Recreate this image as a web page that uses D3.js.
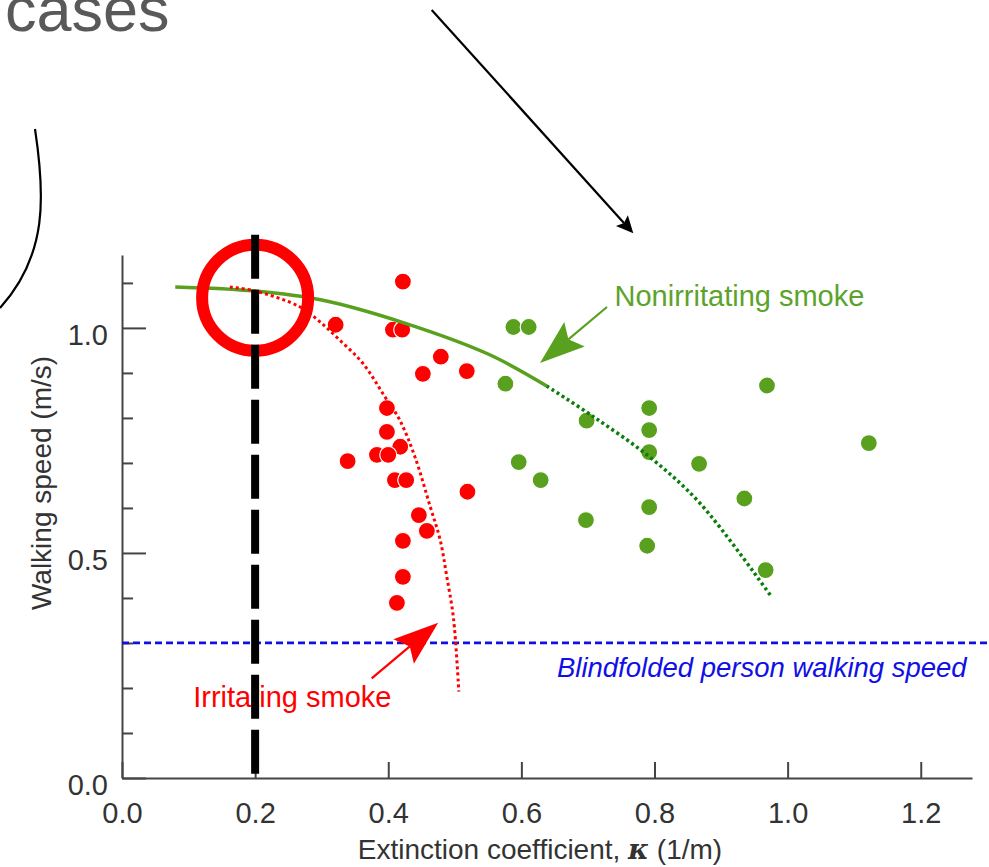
<!DOCTYPE html>
<html>
<head>
<meta charset="utf-8">
<script src="https://cdn.jsdelivr.net/npm/d3@7"></script>
<style>
  body { margin: 0; background: #fff; }
  text { font-family: "Liberation Sans", Arial, sans-serif; }
</style>
</head>
<body>
<script>
// walking speed vs extinction coefficient
const irritating = [
  [0.422, 1.103], [0.321, 1.007], [0.407, 0.996], [0.421, 0.996], [0.479, 0.936],
  [0.452, 0.898], [0.518, 0.904], [0.398, 0.822], [0.398, 0.769], [0.418, 0.736],
  [0.383, 0.718], [0.400, 0.718], [0.339, 0.704], [0.410, 0.662], [0.427, 0.662],
  [0.519, 0.636], [0.446, 0.584], [0.458, 0.549], [0.422, 0.527], [0.422, 0.447],
  [0.413, 0.389]
];
const nonirritating = [
  [0.588, 1.002], [0.611, 1.002], [0.576, 0.876], [0.698, 0.794], [0.792, 0.822],
  [0.792, 0.773], [0.792, 0.724], [0.596, 0.702], [0.629, 0.662], [0.969, 0.872],
  [0.867, 0.698], [1.122, 0.744], [0.935, 0.621], [0.792, 0.602], [0.697, 0.573],
  [0.789, 0.516], [0.967, 0.462]
];
// fitted curves
const nonirrFitSolid = [[0.08, 1.091], [0.2, 1.082], [0.3, 1.062], [0.42, 1.013], [0.55, 0.942], [0.638, 0.871]];
const nonirrFitDotted = [[0.638, 0.871], [0.708, 0.803], [0.792, 0.714], [0.868, 0.611], [0.976, 0.402]];
const irrFit = [[0.162, 1.091], [0.2, 1.082], [0.267, 1.047], [0.297, 1.014], [0.327, 0.973], [0.362, 0.921],
  [0.395, 0.847], [0.417, 0.796], [0.44, 0.714], [0.463, 0.603], [0.478, 0.529], [0.488, 0.447],
  [0.498, 0.355], [0.506, 0.192]];

const blindSpeed = 0.3;
const markK = 0.2;
const xTicks = [0, 0.2, 0.4, 0.6, 0.8, 1.0, 1.2];
const yMajor = [0, 0.5, 1.0];
const yMinor = [0.1, 0.2, 0.3, 0.4, 0.6, 0.7, 0.8, 0.9, 1.1];

const W = 989, H = 867;
const svg = d3.select('body').append('svg').attr('width', W).attr('height', H);

const x = d3.scaleLinear().domain([0, 1.277]).range([122, 972]);
const y = d3.scaleLinear().domain([0, 1.162]).range([778, 255]);

const axisColor = '#444';
const green = '#58a01e', darkGreen = '#0a7d0a', red = '#ff0000', blue = '#1010e6';

// annotations outside the plot
svg.append('text').attr('x', 5).attr('y', 31).attr('font-size', 63).attr('fill', '#595959').text('cases');
svg.append('path').attr('d', 'M35,129 C45,195 48,255 0,308')
  .attr('fill', 'none').attr('stroke', '#000').attr('stroke-width', 2.2);

function arrow(g, x1, y1, x2, y2, color, lw, len, half, notch) {
  const dx = x2 - x1, dy = y2 - y1, L = Math.hypot(dx, dy), ux = dx / L, uy = dy / L;
  const bx = x2 - ux * len, by = y2 - uy * len;
  const nx = x2 - ux * notch, ny = y2 - uy * notch;
  const px = -uy, py = ux;
  g.append('line').attr('x1', x1).attr('y1', y1).attr('x2', nx).attr('y2', ny)
    .attr('stroke', color).attr('stroke-width', lw);
  g.append('path')
    .attr('d', `M${x2},${y2}L${bx + px * half},${by + py * half}L${nx},${ny}L${bx - px * half},${by - py * half}Z`)
    .attr('fill', color);
}

arrow(svg, 431.7, 10, 633.3, 233.3, '#000', 2.2, 17, 8, 14);

// axes
const xAxis = svg.append('g').attr('transform', `translate(0,${y(0)})`)
  .call(d3.axisBottom(x).tickValues(xTicks).tickSize(-16).tickSizeOuter(0).tickPadding(24)
    .tickFormat(d3.format('.1f')));
xAxis.select('.domain').attr('stroke', axisColor).attr('stroke-width', 2);
xAxis.selectAll('.tick line').attr('stroke', axisColor).attr('stroke-width', 2);
xAxis.selectAll('.tick text').attr('font-size', 29).attr('fill', '#333')
  .attr('font-family', '"Liberation Sans", Arial, sans-serif');

const yAxis = svg.append('g').attr('transform', `translate(${x(0)},0)`)
  .call(d3.axisLeft(y).tickValues(yMajor).tickSize(-24).tickSizeOuter(0).tickPadding(14)
    .tickFormat(d3.format('.1f')));
yAxis.select('.domain').attr('stroke', axisColor).attr('stroke-width', 2);
yAxis.selectAll('.tick line').attr('stroke', axisColor).attr('stroke-width', 2);
yAxis.selectAll('.tick text').attr('font-size', 29).attr('fill', '#333').attr('dy', '0.57em')
  .attr('font-family', '"Liberation Sans", Arial, sans-serif');

const yMinorAxis = svg.append('g').attr('transform', `translate(${x(0)},0)`)
  .call(d3.axisLeft(y).tickValues(yMinor).tickSize(-11).tickFormat(''));
yMinorAxis.select('.domain').remove();
yMinorAxis.selectAll('.tick line').attr('stroke', axisColor).attr('stroke-width', 2);

// axis titles
const xt = svg.append('text').attr('x', 540).attr('y', 859).attr('text-anchor', 'middle')
  .attr('font-size', 28).attr('fill', '#333');
xt.append('tspan').text('Extinction coefficient, ');
xt.append('tspan').attr('font-family', '"DejaVu Serif", "Liberation Serif", serif')
  .attr('font-style', 'italic').attr('font-weight', 'bold').text('\u03BA');
xt.append('tspan').text(' (1/m)');

svg.append('text').attr('transform', `translate(51,483) rotate(-90)`).attr('text-anchor', 'middle')
  .attr('font-size', 28).attr('fill', '#333').text('Walking speed (m/s)');

// blindfolded reference line
svg.append('line').attr('x1', x(0)).attr('x2', W).attr('y1', y(blindSpeed)).attr('y2', y(blindSpeed))
  .attr('stroke', blue).attr('stroke-width', 2.8).attr('stroke-dasharray', '7,4');
svg.append('text').attr('x', x(1.269)).attr('y', y(0.224)).attr('text-anchor', 'end')
  .attr('font-size', 27.5).attr('font-style', 'italic').attr('fill', blue)
  .text('Blindfolded person walking speed');

// points
svg.append('g').selectAll('circle').data(irritating).enter().append('circle')
  .attr('cx', d => x(d[0])).attr('cy', d => y(d[1])).attr('r', 8.5)
  .attr('fill', red).attr('stroke', '#fff').attr('stroke-width', 1.2);
svg.append('g').selectAll('circle').data(nonirritating).enter().append('circle')
  .attr('cx', d => x(d[0])).attr('cy', d => y(d[1])).attr('r', 8.5)
  .attr('fill', green).attr('stroke', '#fff').attr('stroke-width', 1.2);

// fitted curves
const line = d3.line().x(d => x(d[0])).y(d => y(d[1])).curve(d3.curveCatmullRom);
svg.append('path').attr('d', line(nonirrFitSolid)).attr('fill', 'none')
  .attr('stroke', green).attr('stroke-width', 3.5);
svg.append('path').attr('d', line(nonirrFitDotted)).attr('fill', 'none')
  .attr('stroke', darkGreen).attr('stroke-width', 3.5).attr('stroke-dasharray', '3,3');
svg.append('path').attr('d', line(irrFit)).attr('fill', 'none')
  .attr('stroke', red).attr('stroke-width', 3).attr('stroke-dasharray', '3,3');

// series labels with arrows
svg.append('text').attr('x', x(0.740)).attr('y', y(1.048)).attr('font-size', 29).attr('fill', '#5ba32b')
  .text('Nonirritating smoke');
arrow(svg, 607, 307, x(0.628), y(0.922), green, 2.2, 45, 16, 37);

svg.append('text').attr('x', x(0.107)).attr('y', y(0.158)).attr('font-size', 29).attr('fill', red)
  .text('Irritating smoke');
arrow(svg, 371.7, 678.3, x(0.475), y(0.345), red, 2.2, 45, 16, 37);

// highlight of k = 0.2
svg.append('circle').attr('cx', x(markK)).attr('cy', y(1.067)).attr('r', 53)
  .attr('fill', 'none').attr('stroke', red).attr('stroke-width', 12);
svg.append('line').attr('x1', x(markK)).attr('x2', x(markK)).attr('y1', y(1.207)).attr('y2', y(0) + 1)
  .attr('stroke', '#000').attr('stroke-width', 8).attr('stroke-dasharray', '44,11');
</script>
</body>
</html>
